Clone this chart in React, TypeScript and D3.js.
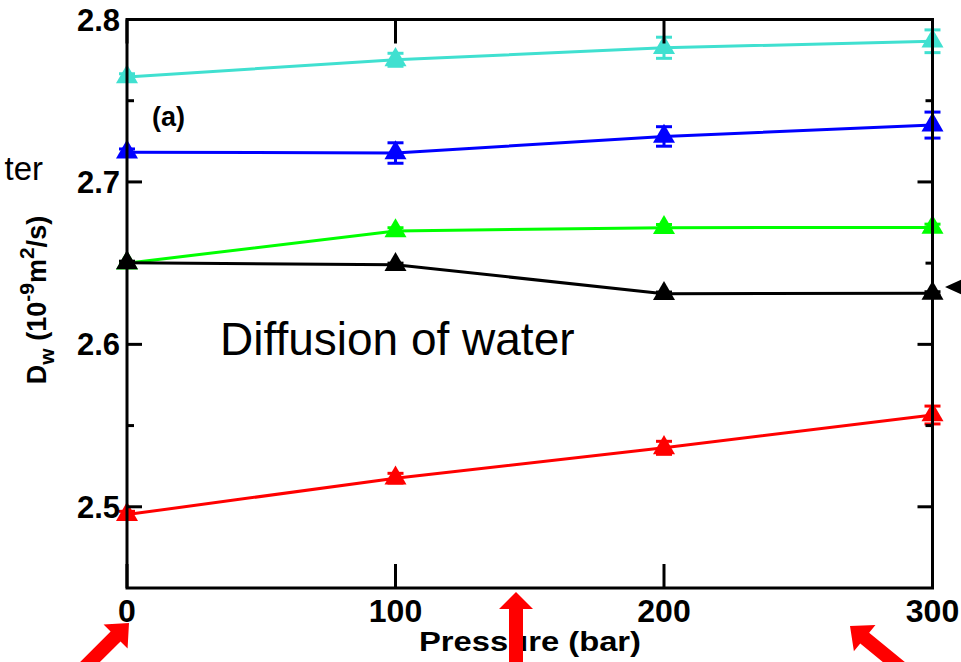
import React from 'react';
import * as d3 from 'd3';

// pressure in bar
const pressures = [0, 100, 200, 300];

// D_w in 10^-9 m^2/s, one array per curve
const cyanValues = [2.7646, 2.7752, 2.7826, 2.7866];
const blueValues = [2.7183, 2.7178, 2.7280, 2.7350];
const greenValues = [2.6500, 2.6698, 2.6718, 2.6720];
const blackValues = [2.6502, 2.6490, 2.6312, 2.6314];
const redValues = [2.4952, 2.5176, 2.5363, 2.5565];

// error bars (half widths)
const cyanErr = [0.002, 0.004, 0.0065, 0.007];
const blueErr = [0.002, 0.0063, 0.006, 0.008];
const greenErr = [0.001, 0.002, 0.002, 0.002];
const blackErr = [0.001, 0.001, 0.001, 0.001];
const redErr = [0.002, 0.003, 0.004, 0.0055];

const xTicks = [0, 100, 200, 300];
const yTicks = [2.5, 2.6, 2.7, 2.8];
const yMinorTicks = [2.55, 2.65, 2.75];

const series = [
  { name: 'cyan', values: cyanValues, err: cyanErr, color: '#40E0D0' },
  { name: 'blue', values: blueValues, err: blueErr, color: '#0000FF' },
  { name: 'green', values: greenValues, err: greenErr, color: '#00FF00' },
  { name: 'black', values: blackValues, err: blackErr, color: '#000000' },
  { name: 'red', values: redValues, err: redErr, color: '#FF0000' },
];

const W = 961;
const H = 662;
const font = '"Liberation Sans", Arial, Helvetica, sans-serif';

// polygon for a block arrow from tail to tip
function arrowPath(tail: [number, number], tip: [number, number], shaft: number, headW: number, headL: number) {
  const dx = tip[0] - tail[0];
  const dy = tip[1] - tail[1];
  const len = Math.hypot(dx, dy);
  const ux = dx / len, uy = dy / len;
  const px = -uy, py = ux;
  const bx = tip[0] - ux * headL, by = tip[1] - uy * headL;
  const pts: [number, number][] = [
    [tail[0] + px * shaft / 2, tail[1] + py * shaft / 2],
    [bx + px * shaft / 2, by + py * shaft / 2],
    [bx + px * headW / 2, by + py * headW / 2],
    tip,
    [bx - px * headW / 2, by - py * headW / 2],
    [bx - px * shaft / 2, by - py * shaft / 2],
    [tail[0] - px * shaft / 2, tail[1] - py * shaft / 2],
  ];
  return 'M' + pts.map(p => p.join(',')).join('L') + 'Z';
}

export default function App() {
  const x = d3.scaleLinear().domain([0, 300]).range([127, 932.5]);
  const y = d3.scaleLinear().domain([2.45, 2.8]).range([588, 19.5]);
  const line = d3.line<number>()
    .x((_, i) => x(pressures[i]))
    .y(d => y(d));
  const tri = d3.symbol().type(d3.symbolTriangle).size(210)();

  const [x0, x1] = x.range();
  const [y0, y1] = y.range();

  return (
    <svg width={W} height={H} style={{ position: 'absolute', left: 0, top: 0, background: '#fff' }} fontFamily={font}>
      {/* curves */}
      {series.map(s => (
        <g key={s.name}>
          <path d={line(s.values) || ''} fill="none" stroke={s.color} strokeWidth={3} />
          {s.values.map((v, i) => {
            const cx = x(pressures[i]);
            const top = y(v + s.err[i]);
            const bot = y(v - s.err[i]);
            return (
              <g key={i}>
                <line x1={cx} x2={cx} y1={top} y2={bot} stroke={s.color} strokeWidth={3} />
                <line x1={cx - 8} x2={cx + 8} y1={top} y2={top} stroke={s.color} strokeWidth={3} />
                <line x1={cx - 8} x2={cx + 8} y1={bot} y2={bot} stroke={s.color} strokeWidth={3} />
                <path d={tri || ''} transform={`translate(${cx},${y(v)})`} fill={s.color} />
              </g>
            );
          })}
        </g>
      ))}

      {/* frame */}
      <rect x={x0} y={y1} width={x1 - x0} height={y0 - y1} fill="none" stroke="#000" strokeWidth={3} />

      {/* x ticks, bottom and top */}
      {xTicks.map(t => (
        <g key={'x' + t}>
          <line x1={x(t)} x2={x(t)} y1={y0} y2={y0 - 24} stroke="#000" strokeWidth={3} />
          <line x1={x(t)} x2={x(t)} y1={y1} y2={y1 + 24} stroke="#000" strokeWidth={3} />
          <text x={x(t)} y={622} textAnchor="middle" fontSize={32} fontWeight="bold">{t}</text>
        </g>
      ))}

      {/* y ticks, left and right */}
      {yTicks.map(t => (
        <g key={'y' + t}>
          <line x1={x0} x2={x0 + 15} y1={y(t)} y2={y(t)} stroke="#000" strokeWidth={3} />
          <line x1={x1} x2={x1 - 15} y1={y(t)} y2={y(t)} stroke="#000" strokeWidth={3} />
          <text x={120} y={y(t) + 11} textAnchor="end" fontSize={31} fontWeight="bold">{t.toFixed(1)}</text>
        </g>
      ))}
      {yMinorTicks.map(t => (
        <g key={'m' + t}>
          <line x1={x0} x2={x0 + 7} y1={y(t)} y2={y(t)} stroke="#000" strokeWidth={3} />
          <line x1={x1} x2={x1 - 7} y1={y(t)} y2={y(t)} stroke="#000" strokeWidth={3} />
        </g>
      ))}

      {/* axis titles */}
      <text x={530} y={651} textAnchor="middle" fontSize={27} fontWeight="bold" textLength={222} lengthAdjust="spacingAndGlyphs">Pressure (bar)</text>
      <text transform="translate(46,300) rotate(-90)" textAnchor="middle" fontSize={27} fontWeight="bold">
        D<tspan dy={8} fontSize={21}>w</tspan>
        <tspan dy={-8}> (10</tspan>
        <tspan dy={-12} fontSize={21}>-9</tspan>
        <tspan dy={12}>m</tspan>
        <tspan dy={-12} fontSize={21}>2</tspan>
        <tspan dy={12}>/s)</tspan>
      </text>

      {/* annotations */}
      <text x={152} y={126} fontSize={27} fontWeight="bold">(a)</text>
      <text x={220} y={355} fontSize={46}>Diffusion of water</text>
      <text x={43} y={180} textAnchor="end" fontSize={33}>ter</text>

      {/* arrows */}
      <path d={arrowPath([80, 672], [129, 623], 14, 34, 19)} fill="#FF0000" />
      <path d={arrowPath([516, 680], [516, 592], 14, 34, 17)} fill="#FF0000" />
      <path d={arrowPath([906, 672], [850, 626], 14, 34, 19)} fill="#FF0000" />
      <path d={arrowPath([1000, 287], [945, 287], 4, 18, 20)} fill="#000" />
    </svg>
  );
}
